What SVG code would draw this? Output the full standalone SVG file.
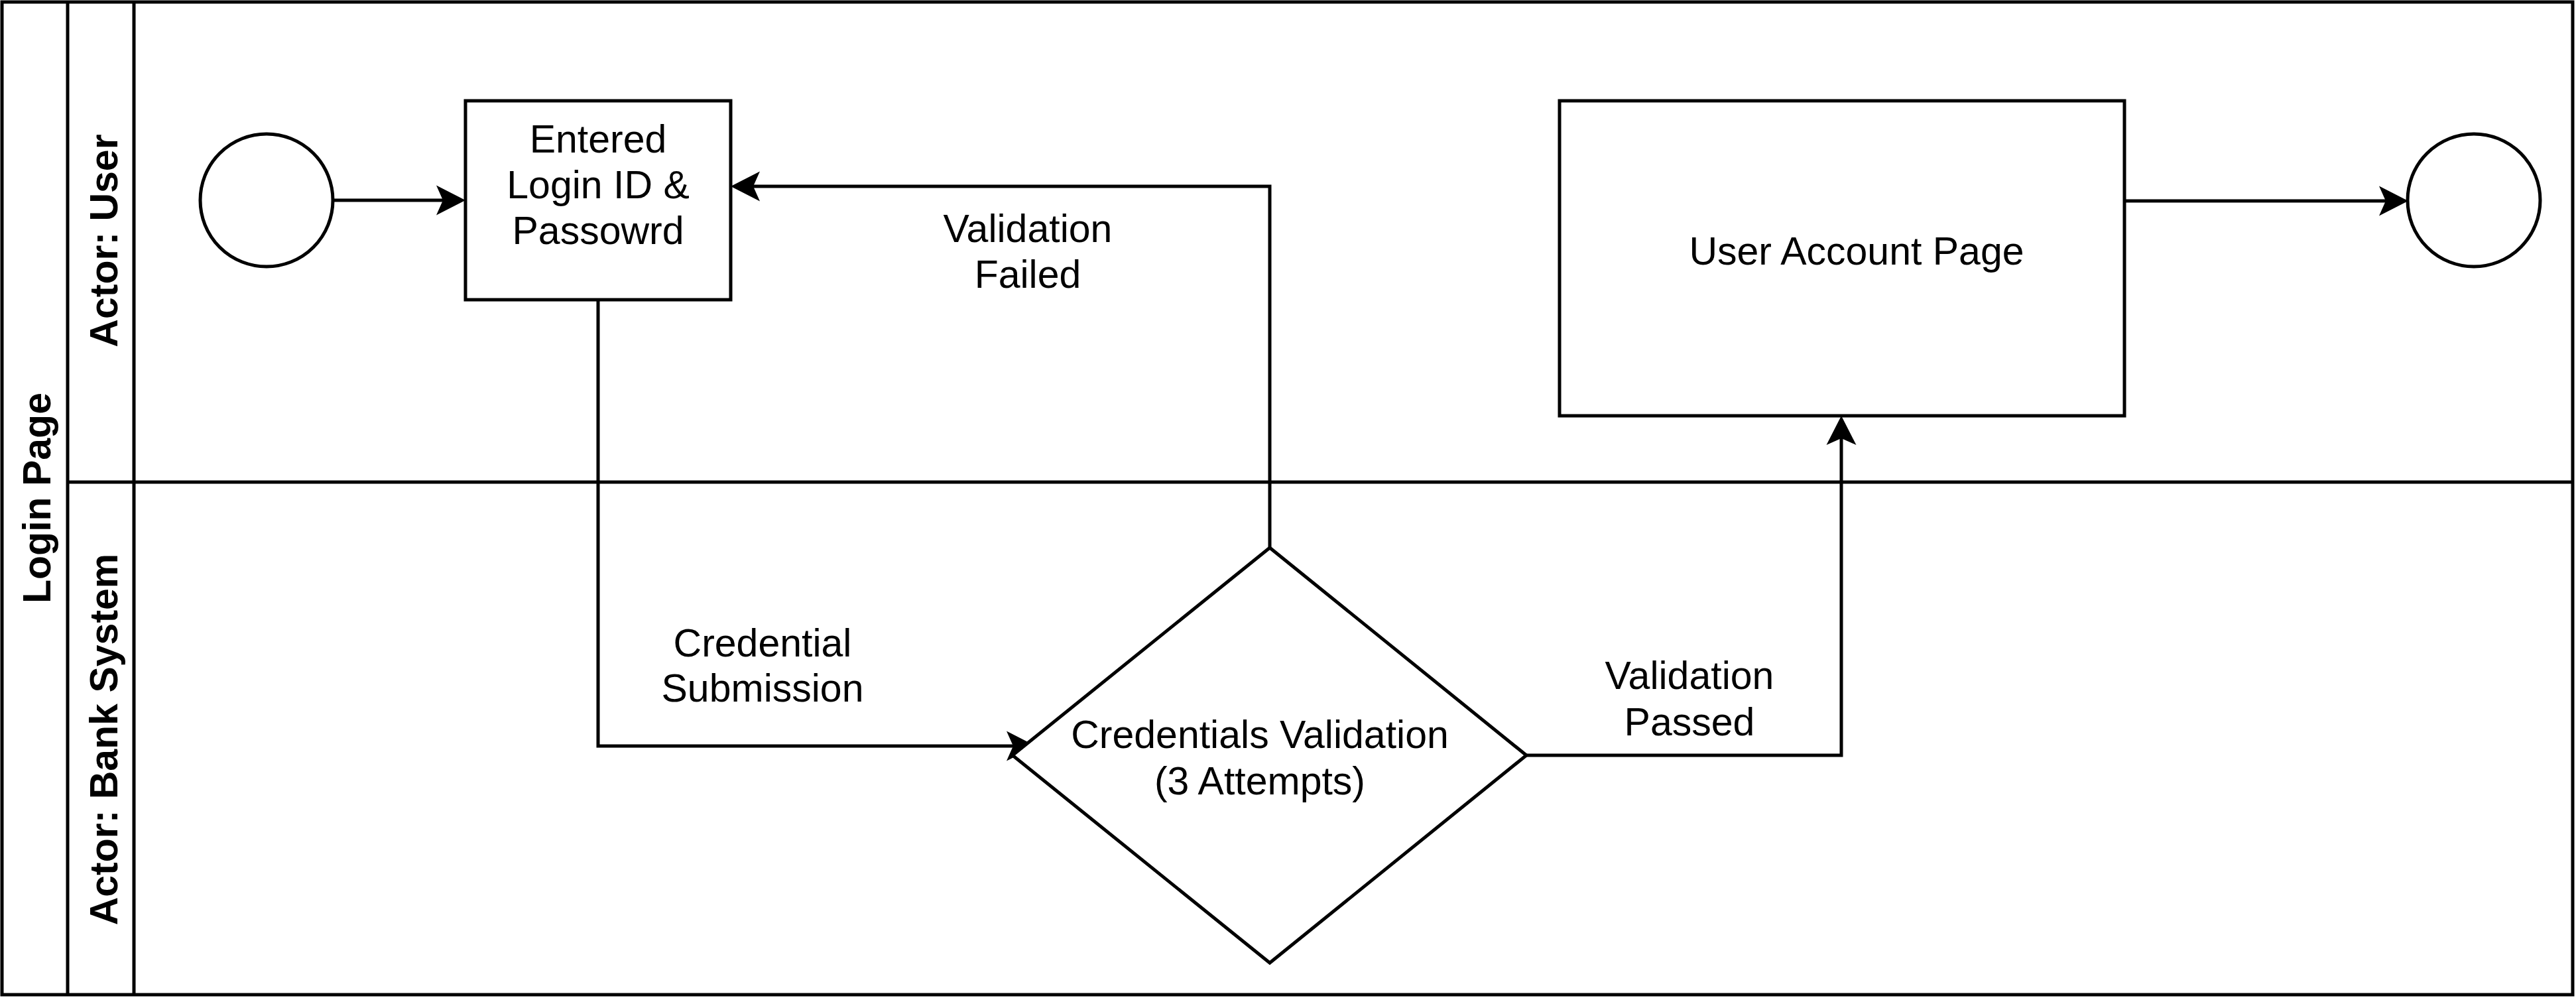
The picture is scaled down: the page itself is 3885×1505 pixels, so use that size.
<svg xmlns="http://www.w3.org/2000/svg" width="3885" height="1505" viewBox="0 0 3885 1505">
<style>
.ln{fill:none;stroke:#000;stroke-width:5}
.nd{fill:#fff;stroke:#000;stroke-width:5}
.t{font-family:"Liberation Sans",Arial,Helvetica,sans-serif;font-size:59px;fill:#000;text-anchor:middle}
.b{font-weight:bold}
.edge{fill:none;stroke:#000;stroke-width:5;marker-end:url(#arr)}
</style>
<defs>
<marker id="arr" markerUnits="userSpaceOnUse" markerWidth="46" markerHeight="47" viewBox="0 0 46 47" refX="10" refY="23.5" orient="auto">
<path d="M44,23.5 L0,1 L10,23.5 L0,46 Z" fill="#000"/>
</marker>
</defs>
<rect width="3885" height="1505" fill="#fff"/>
<g id="pool">
<rect class="ln" x="3" y="3" width="3877" height="1497"/>
<line class="ln" x1="102" y1="3" x2="102" y2="1500"/>
<line class="ln" x1="202" y1="3" x2="202" y2="1500"/>
<line class="ln" x1="102" y1="727" x2="3880" y2="727"/>
<text class="t b" transform="translate(76,751) rotate(-90)">Login Page</text>
</g>
<g id="lane-user">
<text class="t b" transform="translate(177,363) rotate(-90)">Actor: User</text>
</g>
<g id="lane-bank">
<text class="t b" transform="translate(177,1115) rotate(-90)">Actor: Bank System</text>
</g>
<g id="connectors">
<path class="edge" d="M502,302 H668"/>
<path class="edge" d="M902,452 V1125 H1528"/>
<path class="edge" d="M1915,826 V281 H1136"/>
<path class="edge" d="M2302,1139 H2777 V661"/>
<path class="edge" d="M3204,303 H3598"/>
<text class="t" x="1150" y="990">Credential</text>
<text class="t" x="1150" y="1058">Submission</text>
<text class="t" x="1550" y="365">Validation</text>
<text class="t" x="1550" y="434">Failed</text>
<text class="t" x="2548" y="1039">Validation</text>
<text class="t" x="2548" y="1109">Passed</text>
</g>
<g id="start">
<circle class="nd" cx="402" cy="302" r="100"/>
</g>
<g id="entered">
<rect class="nd" x="702" y="152" width="400" height="300"/>
<text class="t" x="902" y="230">Entered</text>
<text class="t" x="902" y="299">Login ID &amp;</text>
<text class="t" x="902" y="368">Passowrd</text>
</g>
<g id="validation">
<polygon class="nd" points="1915,826 2302,1139 1915,1452 1527,1139"/>
<text class="t" x="1900" y="1128">Credentials Validation</text>
<text class="t" x="1900" y="1198">(3 Attempts)</text>
</g>
<g id="account">
<rect class="nd" x="2352" y="152" width="852" height="475"/>
<text class="t" x="2800" y="399">User Account Page</text>
</g>
<g id="end">
<circle class="nd" cx="3731" cy="302" r="100"/>
</g>
</svg>
